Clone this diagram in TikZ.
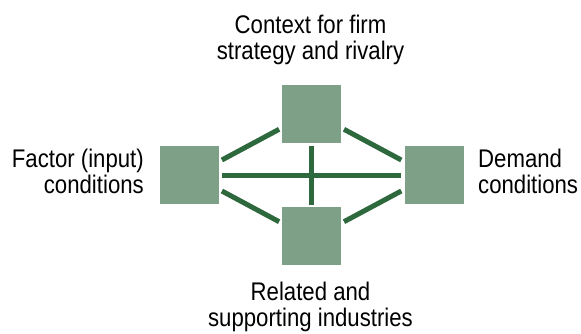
\documentclass[tikz,border=0pt]{standalone}
\usepackage{fontspec}
\setmainfont{Liberation Sans}[FakeStretch=0.87]
\usetikzlibrary{calc}
\definecolor{boxgreen}{RGB}{125,160,135}
\definecolor{linkgreen}{RGB}{45,105,60}
\begin{document}
\begin{tikzpicture}[x=1pt,y=-1pt,
  sq/.style={fill=boxgreen,draw=none,minimum width=59pt,minimum height=58pt,inner sep=0pt},
  link/.style={draw=linkgreen,line width=5pt},
  lbl/.style={inner sep=0pt,font=\fontsize{25.5}{25.5}\selectfont}]
\useasboundingbox (0,0) rectangle (581,334);
\node[sq] (T) at (311.5,114) {};
\node[sq] (L) at (189.5,175) {};
\node[sq] (R) at (434,175) {};
\node[sq] (B) at (311.5,236) {};
\draw[link] ($(L.east)+(2.7,0.5)$) -- ($(R.west)+(-3,0.5)$);
\draw[link] ($(T.south)+(0.2,2.7)$) -- ($(B.south)+(0.2,-60.7)$);
\draw[link] ($(L.east)+(2.7,-15)$) -- ($(T.west)+(-2.7,15.3)$);
\draw[link] ($(T.east)+(2.8,15.3)$) -- ($(R.west)+(-3,-15)$);
\draw[link] ($(L.east)+(2.7,16)$) -- ($(B.west)+(-2.7,-14.3)$);
\draw[link] ($(B.east)+(2.8,-14.3)$) -- ($(R.west)+(-3,16)$);
\node[lbl,align=center,anchor=base] (tt) at (310.5,59.3) {Context for firm\\strategy and rivalry};
\node[lbl,align=right,anchor=base east] (lt) at (144,193.3) {Factor (input)\\conditions};
\node[lbl,align=left,anchor=base west] (rt) at (478,193.3) {Demand\\conditions};
\node[lbl,align=center,anchor=base] (bt) at (310.5,326) {Related and\\supporting industries};
\end{tikzpicture}
\end{document}
